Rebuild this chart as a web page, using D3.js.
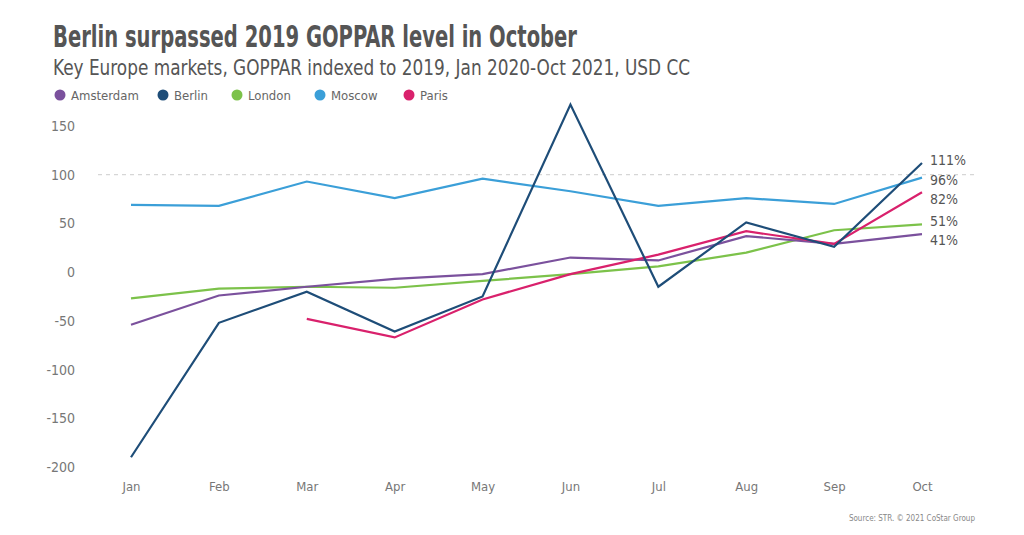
<!DOCTYPE html>
<html><head><meta charset="utf-8">
<script src="https://cdn.jsdelivr.net/npm/d3@7"></script>
<style>
body{margin:0;background:#fff;}
text{font-family:"Liberation Sans Narrow","DejaVu Sans Condensed","Roboto Condensed",sans-serif;}
</style></head>
<body><svg id="c" width="1024" height="535"></svg>
<script>
const months = ["Jan","Feb","Mar","Apr","May","Jun","Jul","Aug","Sep","Oct"];
const amsterdam = [-54,-24,-15,-7,-2,15,12,37,29,39];
const berlin = [-190,-52,-20,-61,-25,172,-15,51,26,112];
const london = [-27,-17,-15,-16,-9,-2,6,20,43,49];
const moscow = [69,68,93,76,96,83,68,76,70,97];
const paris = [null,null,-48,-67,-28,-2,18,42,29,82];
const seriesNames = ["Amsterdam","Berlin","London","Moscow","Paris"];
const seriesColors = ["#7b519d","#1e4d78","#7cc24a","#3b9fd8","#d9216c"];
const endLabels = ["41%","111%","51%","96%","82%"];
const yTicks = [150,100,50,0,-50,-100,-150,-200];
const refValue = 100;

const seriesData = [amsterdam, berlin, london, moscow, paris];
const svg = d3.select("#c");
const x = d3.scalePoint().domain(months).range([131, 922]);
const y = d3.scaleLinear().domain([-200, 150]).range([467, 126]);

// title
svg.append("text").attr("x",53).attr("y",47).attr("fill","#555").attr("font-size",31).attr("font-weight","bold")
  .attr("textLength",524).attr("lengthAdjust","spacingAndGlyphs").text("Berlin surpassed 2019 GOPPAR level in October");
svg.append("text").attr("x",53).attr("y",75).attr("fill","#555").attr("font-size",21)
  .attr("textLength",637).attr("lengthAdjust","spacingAndGlyphs").text("Key Europe markets, GOPPAR indexed to 2019, Jan 2020-Oct 2021, USD CC");

// legend
const legX = [60,163,237,320,409];
seriesNames.forEach((n,i)=>{
  svg.append("circle").attr("cx",legX[i]).attr("cy",95).attr("r",5.5).attr("fill",seriesColors[i]);
  svg.append("text").attr("x",legX[i]+11).attr("y",100).attr("fill","#666").attr("font-size",13).text(n);
});

// y axis
const yAxis = d3.axisLeft(y).tickValues(yTicks).tickSize(0).tickPadding(0).tickFormat(d=>String(d));
const gy = svg.append("g").attr("transform","translate(75,0)").call(yAxis);
gy.select(".domain").remove();
gy.selectAll("text").attr("fill","#777").attr("font-size",14).style("font-family",'"Liberation Sans Narrow","DejaVu Sans Condensed",sans-serif');

// x axis
const xAxis = d3.axisBottom(x).tickSize(0).tickPadding(0);
const gx = svg.append("g").attr("transform","translate(0,482)").call(xAxis);
gx.select(".domain").remove();
gx.selectAll("text").attr("fill","#777").attr("font-size",13).style("font-family",'"Liberation Sans Narrow","DejaVu Sans Condensed",sans-serif');

// ref line
svg.append("line").attr("x1",98).attr("x2",977).attr("y1",y(refValue)).attr("y2",y(refValue))
  .attr("stroke","#ccc").attr("stroke-width",1).attr("stroke-dasharray","4,4");

// lines
const line = d3.line().defined(d=>d!=null).x((d,i)=>x(months[i])).y(d=>y(d));
const order = [3,2,0,4,1];
order.forEach(i=>{
  svg.append("path").datum(seriesData[i]).attr("d",line).attr("fill","none")
    .attr("stroke",seriesColors[i]).attr("stroke-width",2.2).attr("stroke-linejoin","miter");
});

// end labels
const labelY = [240,160,221,180,199];
seriesNames.forEach((n,i)=>{
  svg.append("text").attr("x",930).attr("y",labelY[i]+5).attr("fill","#555").attr("font-size",14).text(endLabels[i]);
});

svg.append("text").attr("x",975).attr("y",521).attr("text-anchor","end").attr("fill","#888").attr("font-size",8).text("Source: STR. © 2021 CoStar Group");
</script></body></html>
